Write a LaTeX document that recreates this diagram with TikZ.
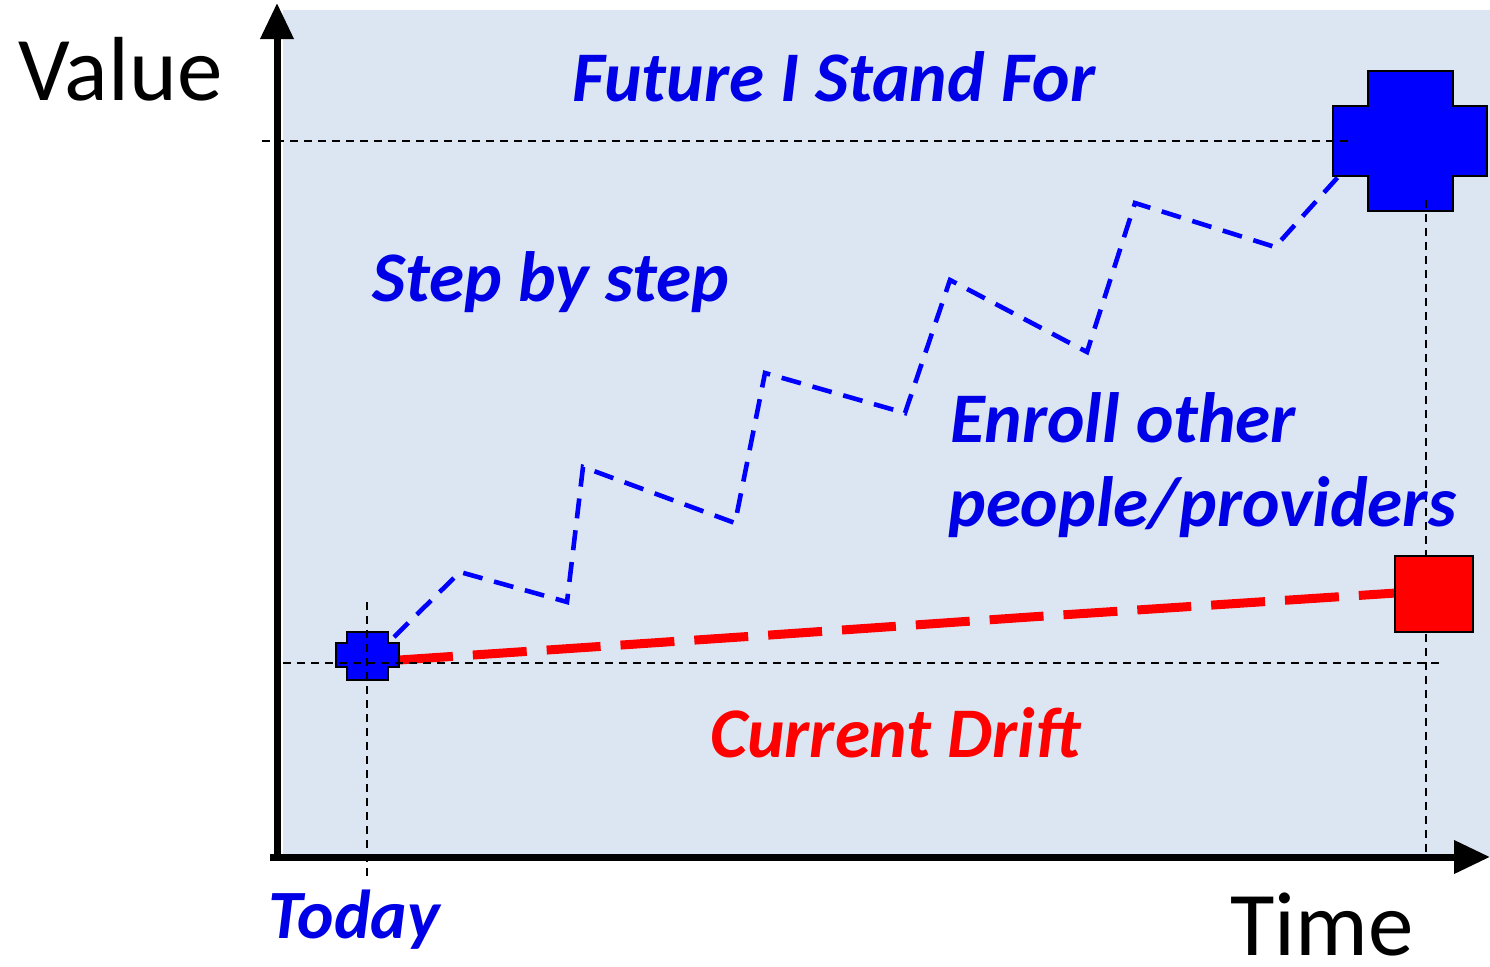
\documentclass[tikz,border=0pt]{standalone}
\usepackage{fontspec}
\setmainfont{Carlito}
\usetikzlibrary{arrows.meta}
\definecolor{panel}{HTML}{DCE6F2}
\definecolor{myblue}{HTML}{0000FF}
\definecolor{myred}{HTML}{FF0000}
\definecolor{txtblue}{HTML}{0000E6}
\tikzset{
  guide/.style={black, line width=0.8pt, dash pattern=on 4pt off 3pt},
  axis/.style={black, line width=3.5pt, -{Triangle[length=18pt,width=16pt]}},
  steppath/.style={myblue, line width=2.3pt, dash pattern=on 10pt off 6pt},
  driftpath/.style={myred, line width=4.5pt, dash pattern=on 27pt off 10pt},
  lbl/.style={anchor=base west, inner sep=0pt},
  bigital/.style={font=\fontsize{35.6}{42}\bfseries\itshape\selectfont},
  axlbl/.style={anchor=base west, inner sep=0pt, font=\fontsize{45.5}{50}\selectfont},
  crossshape/.style={fill=myblue, draw=black, line width=1pt},
}
\begin{document}
\begin{tikzpicture}[x=0.5pt,y=-0.5pt]
\useasboundingbox (0,0) rectangle (1490,966);
\fill[panel] (283,10) rectangle (1490,857);
% axes
\coordinate (ytop) at (277,3);
\coordinate (ybot) at (277,861);
\coordinate (xstart) at (270,857);
\coordinate (xend) at (1490,857);
\draw[axis] (ybot) -- (ytop);
\draw[axis] (xstart) -- (xend);
% drift
\coordinate (driftA) at (399,660);
\coordinate (driftB) at (770,635);
\coordinate (driftC) at (1030,617);
\coordinate (driftD) at (1396,593);
\draw[driftpath] (driftA) -- (driftB) -- (driftC) -- (driftD);
% small cross
\draw[crossshape] (347,632) -- (388,632) -- (388,643) -- (399,643) -- (399,667) -- (388,667) -- (388,680) -- (347,680) -- (347,667) -- (336,667) -- (336,643) -- (347,643) -- cycle;
% big cross
\draw[crossshape] (1368,71) -- (1453,71) -- (1453,106) -- (1487,106) -- (1487,176) -- (1453,176) -- (1453,211) -- (1368,211) -- (1368,176) -- (1333,176) -- (1333,106) -- (1368,106) -- cycle;
% step path
\coordinate (s0) at (394,637);
\coordinate (s1) at (460,572);
\coordinate (s2) at (567,602);
\coordinate (s3) at (583,467);
\coordinate (s4) at (735,523);
\coordinate (s5) at (765,373);
\coordinate (s6) at (905,413);
\coordinate (s7) at (950,280);
\coordinate (s8) at (1087,352);
\coordinate (s9) at (1135,203);
\coordinate (s10) at (1275,247);
\coordinate (s11) at (1338,177);
\draw[steppath] (s0) -- (s1) -- (s2) -- (s3) -- (s4) -- (s5) -- (s6) -- (s7) -- (s8) -- (s9) -- (s10) -- (s11);
% guides
\coordinate (g1a) at (262,141);
\coordinate (g1b) at (1350,141);
\coordinate (g2a) at (283,663);
\coordinate (g2b) at (1440,663);
\coordinate (g3a) at (367,602);
\coordinate (g3b) at (367,880);
\coordinate (g4a) at (1426,200);
\coordinate (g4b) at (1426,857);
\draw[guide] (g1a) -- (g1b);
\draw[guide] (g2a) -- (g2b);
\draw[guide] (g3a) -- (g3b);
\draw[guide] (g4a) -- (g4b);
% red square
\node[draw=black, line width=1pt, fill=myred, minimum width=39pt, minimum height=38pt, inner sep=0pt] (end) at (1434,594) {};
% labels
\node[axlbl] (value) at (18,100) {Value};
\node[axlbl] (time) at (1230,955) {Time};
\node[lbl, txtblue, bigital] (fut) at (572,101) {Future I Stand For};
\node[lbl, txtblue, bigital] (stp) at (372,301) {Step by step};
\node[lbl, txtblue, bigital] (enr1) at (950,442) {Enroll other};
\node[lbl, txtblue, bigital] (enr2) at (948,526) {people/providers};
\node[lbl, myred, bigital] (cur) at (710,757) {Current Drift};
\node[lbl, txtblue, font=\fontsize{34.6}{40}\bfseries\itshape\selectfont] (tod) at (268,938) {Today};
\end{tikzpicture}
\end{document}
